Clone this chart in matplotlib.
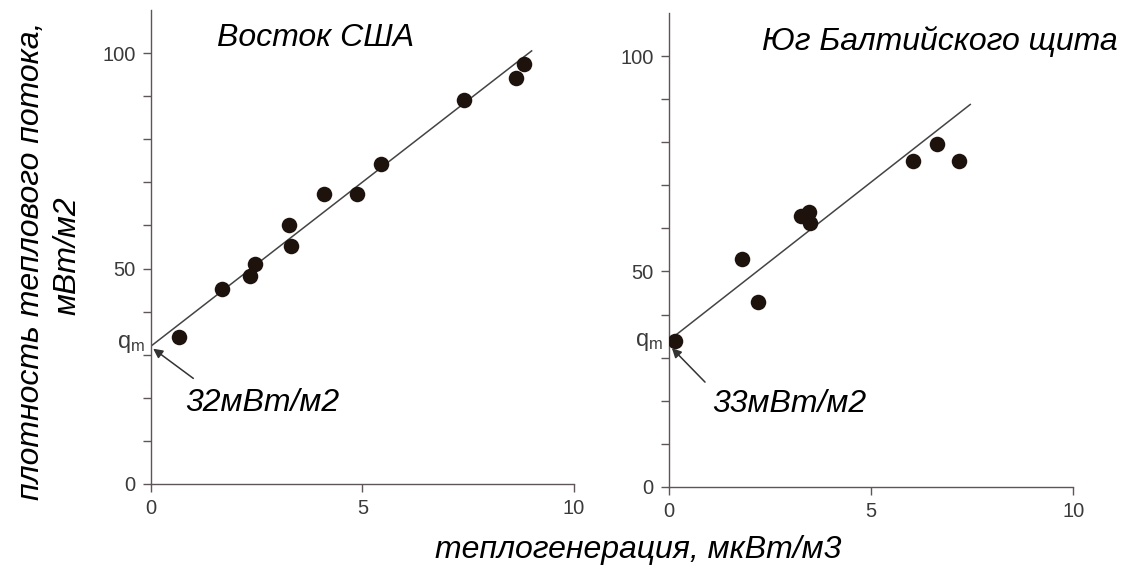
import matplotlib.pyplot as plt

plt.rcParams['font.family'] = ['Liberation Sans', 'DejaVu Sans']

# Восток США
usa_x = [0.67, 1.67, 2.35, 2.45, 3.31, 3.27, 4.10, 4.86, 5.43, 7.41, 8.64, 8.83]
usa_y = [34.1, 45.3, 48.2, 51.0, 55.3, 60.0, 67.2, 67.4, 74.3, 89.1, 94.2, 97.5]
usa_line_x = [0, 9.0]
usa_line_y = [32, 100.5]

# Юг Балтийского щита
balt_x = [0.15, 1.80, 2.21, 3.26, 3.47, 3.49, 6.03, 6.64, 7.16]
balt_y = [33.8, 52.8, 42.8, 62.8, 63.8, 61.3, 75.7, 79.6, 75.7]
balt_line_x = [0, 7.45]
balt_line_y = [34, 88.8]

titles = ['Восток США', 'Юг Балтийского щита']
qm_labels = ['32мВт/м2', '33мВт/м2']

spine_col = '#5e5656'
dot_col = '#1e130c'

fig = plt.figure(figsize=(11.46, 5.65), dpi=100)
ax1 = fig.add_axes([0.1318, 0.1434, 0.369, 0.839])
ax2 = fig.add_axes([0.5838, 0.1386, 0.3528, 0.838])

panels = [
    (ax1, usa_x, usa_y, usa_line_x, usa_line_y, (3.89, 103.5), 'center', 32, (0.05, 31.4), (1.0, 24.5), (0.8, 18.7)),
    (ax2, balt_x, balt_y, balt_line_x, balt_line_y, (11.1, 103.5), 'right', 33, (0.07, 32.2), (0.89, 24.3), (1.06, 19.3)),
]

for i, (ax, xs, ys, lx, ly, tpos, tha, qm, tip, tail, lab) in enumerate(panels):
    ax.plot(lx, ly, color='#444444', lw=1.1, zorder=2)
    ax.scatter(xs, ys, s=125, color=dot_col, zorder=3, linewidths=0)
    ax.set_xlim(0, 10)
    ax.set_ylim(0, 110)
    for s in ['top', 'right']:
        ax.spines[s].set_visible(False)
    for s in ['left', 'bottom']:
        ax.spines[s].set_color(spine_col)
        ax.spines[s].set_linewidth(1.0)
    ax.spines['bottom'].set_bounds(0, 10)
    ax.set_xticks([0, 5, 10])
    ax.set_yticks(range(0, 101, 10))
    ax.set_yticklabels(['0', '', '', '', '', '50', '', '', '', '', '100'])
    ax.tick_params(direction='out', length=6, width=1, color=spine_col,
                   labelsize=14.5, labelcolor='#3a3a3a', pad=5)
    ax.patch.set_alpha(0)
    ax.text(tpos[0], tpos[1], titles[i], fontsize=23, style='italic',
            ha=tha, va='center', clip_on=False)
    ax.text(-0.15, qm + 0.5, r'$\mathregular{q_m}$', fontsize=17, color='#3a3a3a',
            ha='right', va='center', clip_on=False)
    ax.annotate('', xy=tip, xytext=tail,
                arrowprops=dict(arrowstyle='-|>', color='#333333', lw=1.1,
                                mutation_scale=14, shrinkA=0, shrinkB=0))
    ax.text(lab[0], lab[1], qm_labels[i], fontsize=23, style='italic',
            ha='left', va='center')

fig.text(0.027, 0.538, 'плотность теплового потока,', rotation=90, fontsize=23,
         style='italic', ha='center', va='center')
fig.text(0.059, 0.548, 'мВт/м2', rotation=90, fontsize=23,
         style='italic', ha='center', va='center')
fig.text(0.557, 0.026, 'теплогенерация, мкВт/м3', fontsize=23, style='italic',
         ha='center', va='center')

fig.savefig('out.png', dpi=100)
